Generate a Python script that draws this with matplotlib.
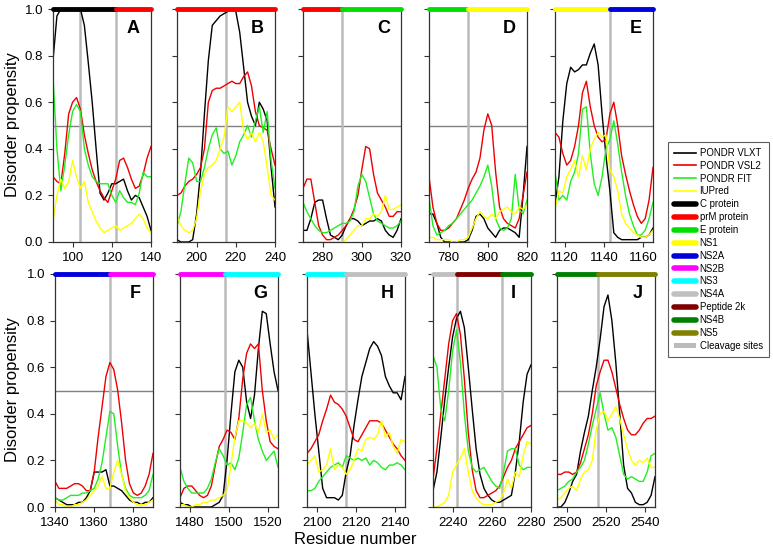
import numpy as np
import matplotlib
matplotlib.use("Agg")
import matplotlib.pyplot as plt
from matplotlib.lines import Line2D
from matplotlib.patches import Patch

plt.rcParams['font.family'] = ['Liberation Sans', 'DejaVu Sans']

# protein colours used in the top bars
prot_names = ['C protein', 'prM protein', 'E protein', 'NS1', 'NS2A', 'NS2B',
              'NS3', 'NS4A', 'Peptide 2k', 'NS4B', 'NS5']
prot_colors = ['#000000', '#ff0000', '#00e000', '#ffff00', '#0000dd', '#ff00ff',
               '#00ffff', '#c0c0c0', '#800000', '#008000', '#808000']
pcol = dict(zip(prot_names, prot_colors))

# ---- panel A : residues 90-140, step 2
A_vlxt = [0.78, 0.97, 1.0, 1.0, 1.0, 1.0, 1.0, 1.0, 0.93, 0.77, 0.60, 0.40, 0.21, 0.18, 0.21, 0.25, 0.25, 0.26, 0.27, 0.22, 0.18, 0.20, 0.19, 0.15, 0.11, 0.05]
A_vsl2 = [0.28, 0.26, 0.25, 0.38, 0.55, 0.60, 0.62, 0.57, 0.46, 0.38, 0.31, 0.26, 0.22, 0.19, 0.17, 0.22, 0.27, 0.35, 0.36, 0.32, 0.27, 0.23, 0.24, 0.29, 0.36, 0.41]
A_fit = [0.71, 0.40, 0.22, 0.33, 0.46, 0.56, 0.59, 0.56, 0.40, 0.33, 0.28, 0.26, 0.25, 0.25, 0.25, 0.20, 0.17, 0.22, 0.19, 0.17, 0.17, 0.16, 0.21, 0.30, 0.28, 0.28]
A_iup = [0.09, 0.20, 0.27, 0.23, 0.26, 0.35, 0.28, 0.23, 0.26, 0.17, 0.13, 0.09, 0.06, 0.04, 0.05, 0.06, 0.07, 0.05, 0.06, 0.07, 0.08, 0.10, 0.12, 0.10, 0.06, 0.04]

# ---- panel B : 190-240
B_vlxt = [0.01, 0.0, 0.0, 0.0, 0.01, 0.12, 0.30, 0.55, 0.78, 0.93, 0.95, 0.97, 0.98, 0.99, 1.0, 0.99, 0.90, 0.75, 0.60, 0.54, 0.50, 0.60, 0.57, 0.52, 0.32, 0.15]
B_vsl2 = [0.20, 0.21, 0.24, 0.26, 0.27, 0.29, 0.32, 0.40, 0.60, 0.65, 0.66, 0.66, 0.67, 0.68, 0.69, 0.68, 0.68, 0.71, 0.73, 0.67, 0.56, 0.50, 0.49, 0.48, 0.40, 0.33]
B_fit = [0.07, 0.13, 0.25, 0.36, 0.34, 0.26, 0.26, 0.32, 0.40, 0.46, 0.49, 0.40, 0.38, 0.39, 0.33, 0.37, 0.43, 0.46, 0.50, 0.45, 0.52, 0.58, 0.47, 0.56, 0.35, 0.23]
B_iup = [0.11, 0.07, 0.05, 0.04, 0.05, 0.10, 0.22, 0.29, 0.32, 0.33, 0.35, 0.40, 0.45, 0.58, 0.56, 0.58, 0.60, 0.48, 0.44, 0.47, 0.43, 0.47, 0.43, 0.32, 0.20, 0.18]

# ---- panel C : 270-320
C_vlxt = [0.05, 0.05, 0.10, 0.17, 0.18, 0.18, 0.10, 0.03, 0.02, 0.01, 0.03, 0.07, 0.10, 0.10, 0.09, 0.07, 0.08, 0.09, 0.09, 0.10, 0.09, 0.05, 0.03, 0.02, 0.05, 0.10]
C_vsl2 = [0.23, 0.27, 0.27, 0.17, 0.07, 0.03, 0.01, 0.01, 0.02, 0.03, 0.05, 0.07, 0.10, 0.14, 0.20, 0.31, 0.41, 0.40, 0.29, 0.21, 0.18, 0.15, 0.11, 0.11, 0.13, 0.13]
C_fit = [0.17, 0.13, 0.10, 0.07, 0.05, 0.04, 0.04, 0.05, 0.06, 0.07, 0.08, 0.08, 0.09, 0.13, 0.24, 0.29, 0.26, 0.19, 0.12, 0.09, 0.08, 0.07, 0.06, 0.06, 0.07, 0.09]
C_iup = [0.0, 0.0, 0.0, 0.0, 0.0, 0.0, 0.0, 0.0, 0.0, 0.0, 0.0, 0.01, 0.03, 0.05, 0.07, 0.07, 0.10, 0.10, 0.12, 0.11, 0.13, 0.20, 0.14, 0.14, 0.15, 0.16]

# ---- panel D : 770-820
D_vlxt = [0.12, 0.12, 0.08, 0.02, 0.0, 0.0, 0.0, 0.0, 0.0, 0.0, 0.01, 0.05, 0.11, 0.12, 0.10, 0.06, 0.04, 0.02, 0.05, 0.06, 0.06, 0.05, 0.04, 0.02, 0.20, 0.41]
D_vsl2 = [0.28, 0.15, 0.08, 0.05, 0.05, 0.06, 0.08, 0.10, 0.14, 0.18, 0.23, 0.27, 0.30, 0.36, 0.48, 0.55, 0.50, 0.30, 0.15, 0.10, 0.08, 0.07, 0.06, 0.10, 0.20, 0.30]
D_fit = [0.19, 0.07, 0.03, 0.04, 0.05, 0.07, 0.08, 0.10, 0.12, 0.14, 0.16, 0.18, 0.21, 0.24, 0.28, 0.33, 0.24, 0.10, 0.06, 0.05, 0.06, 0.10, 0.29, 0.14, 0.12, 0.18]
D_iup = [0.02, 0.02, 0.01, 0.01, 0.01, 0.01, 0.0, 0.0, 0.01, 0.01, 0.02, 0.06, 0.10, 0.13, 0.11, 0.10, 0.12, 0.10, 0.13, 0.14, 0.15, 0.13, 0.12, 0.15, 0.14, 0.16]

# ---- panel E : 1115-1165
E_vlxt = [0.16, 0.28, 0.52, 0.68, 0.75, 0.73, 0.74, 0.76, 0.76, 0.81, 0.85, 0.76, 0.55, 0.37, 0.22, 0.04, 0.02, 0.01, 0.01, 0.01, 0.01, 0.01, 0.02, 0.02, 0.03, 0.06]
E_vsl2 = [0.47, 0.45, 0.38, 0.33, 0.35, 0.41, 0.50, 0.64, 0.69, 0.58, 0.50, 0.45, 0.43, 0.44, 0.55, 0.60, 0.50, 0.37, 0.29, 0.22, 0.16, 0.11, 0.08, 0.10, 0.18, 0.32]
E_fit = [0.30, 0.18, 0.20, 0.18, 0.26, 0.30, 0.38, 0.57, 0.58, 0.38, 0.25, 0.20, 0.28, 0.40, 0.44, 0.52, 0.42, 0.30, 0.20, 0.12, 0.07, 0.03, 0.03, 0.05, 0.10, 0.17]
E_iup = [0.14, 0.22, 0.21, 0.28, 0.31, 0.35, 0.28, 0.37, 0.31, 0.40, 0.44, 0.47, 0.45, 0.46, 0.31, 0.28, 0.22, 0.12, 0.08, 0.06, 0.04, 0.03, 0.02, 0.02, 0.03, 0.05]

# ---- panel F : 1340-1390
F_vlxt = [0.04, 0.03, 0.02, 0.01, 0.01, 0.01, 0.02, 0.02, 0.04, 0.07, 0.15, 0.15, 0.15, 0.16, 0.09, 0.09, 0.08, 0.07, 0.05, 0.03, 0.02, 0.02, 0.01, 0.02, 0.02, 0.04]
F_vsl2 = [0.11, 0.08, 0.08, 0.08, 0.09, 0.10, 0.10, 0.09, 0.07, 0.07, 0.15, 0.30, 0.43, 0.56, 0.62, 0.59, 0.50, 0.36, 0.20, 0.10, 0.06, 0.05, 0.06, 0.09, 0.14, 0.23]
F_fit = [0.04, 0.03, 0.03, 0.04, 0.05, 0.05, 0.05, 0.06, 0.06, 0.07, 0.08, 0.12, 0.19, 0.30, 0.41, 0.40, 0.26, 0.14, 0.08, 0.05, 0.04, 0.04, 0.04, 0.05, 0.07, 0.14]
F_iup = [0.03, 0.01, 0.01, 0.0, 0.0, 0.01, 0.01, 0.02, 0.03, 0.05, 0.07, 0.09, 0.13, 0.08, 0.08, 0.15, 0.20, 0.14, 0.07, 0.04, 0.02, 0.01, 0.01, 0.01, 0.02, 0.03]

# ---- panel G : 1475-1525
G_vlxt = [0.02, 0.01, 0.01, 0.0, 0.0, 0.0, 0.0, 0.0, 0.0, 0.01, 0.02, 0.05, 0.20, 0.40, 0.58, 0.63, 0.60, 0.45, 0.38, 0.48, 0.68, 0.84, 0.83, 0.70, 0.58, 0.50]
G_vsl2 = [0.04, 0.08, 0.09, 0.09, 0.07, 0.05, 0.04, 0.05, 0.09, 0.18, 0.26, 0.29, 0.33, 0.32, 0.29, 0.38, 0.55, 0.66, 0.70, 0.68, 0.70, 0.50, 0.37, 0.28, 0.26, 0.25]
G_fit = [0.17, 0.11, 0.08, 0.06, 0.06, 0.06, 0.06, 0.08, 0.12, 0.19, 0.25, 0.22, 0.18, 0.19, 0.16, 0.21, 0.32, 0.44, 0.47, 0.37, 0.29, 0.24, 0.20, 0.22, 0.24, 0.17]
G_iup = [0.01, 0.01, 0.0, 0.0, 0.01, 0.01, 0.02, 0.02, 0.03, 0.03, 0.04, 0.05, 0.07, 0.18, 0.30, 0.37, 0.37, 0.36, 0.34, 0.36, 0.32, 0.40, 0.32, 0.33, 0.29, 0.31]

# ---- panel H : 2095-2145
H_vlxt = [0.76, 0.58, 0.40, 0.24, 0.08, 0.04, 0.04, 0.04, 0.03, 0.05, 0.15, 0.22, 0.35, 0.46, 0.56, 0.62, 0.68, 0.71, 0.69, 0.65, 0.56, 0.52, 0.49, 0.49, 0.46, 0.56]
H_vsl2 = [0.23, 0.25, 0.28, 0.31, 0.37, 0.42, 0.48, 0.45, 0.44, 0.42, 0.39, 0.34, 0.29, 0.28, 0.31, 0.34, 0.37, 0.37, 0.37, 0.36, 0.33, 0.30, 0.27, 0.25, 0.22, 0.20]
H_fit = [0.07, 0.07, 0.08, 0.11, 0.13, 0.15, 0.17, 0.18, 0.19, 0.17, 0.22, 0.21, 0.20, 0.21, 0.20, 0.21, 0.18, 0.20, 0.19, 0.17, 0.16, 0.18, 0.18, 0.19, 0.18, 0.16]
H_iup = [0.18, 0.20, 0.22, 0.15, 0.16, 0.18, 0.25, 0.16, 0.18, 0.17, 0.14, 0.16, 0.20, 0.25, 0.24, 0.29, 0.30, 0.29, 0.31, 0.37, 0.30, 0.32, 0.26, 0.23, 0.29, 0.28]

# ---- panel I : 2230-2280
I_vlxt = [0.07, 0.15, 0.30, 0.46, 0.60, 0.73, 0.81, 0.84, 0.77, 0.60, 0.42, 0.25, 0.14, 0.08, 0.05, 0.03, 0.02, 0.02, 0.03, 0.04, 0.05, 0.15, 0.28, 0.45, 0.57, 0.61]
I_vsl2 = [0.12, 0.25, 0.40, 0.55, 0.70, 0.80, 0.83, 0.74, 0.55, 0.32, 0.16, 0.07, 0.04, 0.04, 0.05, 0.06, 0.07, 0.09, 0.13, 0.17, 0.20, 0.25, 0.28, 0.31, 0.34, 0.35]
I_fit = [0.65, 0.60, 0.42, 0.37, 0.50, 0.67, 0.76, 0.62, 0.40, 0.24, 0.17, 0.15, 0.16, 0.17, 0.14, 0.11, 0.09, 0.08, 0.15, 0.24, 0.25, 0.25, 0.18, 0.16, 0.17, 0.17]
I_iup = [0.0, 0.0, 0.01, 0.02, 0.05, 0.15, 0.18, 0.21, 0.25, 0.15, 0.07, 0.04, 0.02, 0.01, 0.01, 0.01, 0.02, 0.03, 0.06, 0.12, 0.08, 0.15, 0.13, 0.22, 0.28, 0.27]

# ---- panel J : 2495-2545
J_vlxt = [0.0, 0.0, 0.02, 0.06, 0.11, 0.14, 0.24, 0.32, 0.39, 0.50, 0.60, 0.72, 0.86, 0.91, 0.80, 0.62, 0.40, 0.18, 0.08, 0.06, 0.02, 0.01, 0.01, 0.02, 0.05, 0.13]
J_vsl2 = [0.14, 0.14, 0.15, 0.15, 0.14, 0.15, 0.19, 0.25, 0.31, 0.40, 0.52, 0.58, 0.63, 0.63, 0.58, 0.51, 0.44, 0.38, 0.33, 0.31, 0.31, 0.33, 0.36, 0.38, 0.38, 0.39]
J_fit = [0.07, 0.08, 0.09, 0.11, 0.12, 0.15, 0.17, 0.20, 0.27, 0.35, 0.42, 0.49, 0.40, 0.33, 0.34, 0.30, 0.22, 0.14, 0.12, 0.13, 0.12, 0.11, 0.11, 0.15, 0.22, 0.23]
J_iup = [0.03, 0.04, 0.06, 0.08, 0.09, 0.07, 0.12, 0.15, 0.16, 0.20, 0.33, 0.40, 0.41, 0.37, 0.40, 0.43, 0.38, 0.31, 0.25, 0.20, 0.18, 0.20, 0.19, 0.21, 0.17, 0.17]

# panel settings: label, x range, ticks, cleavage sites, protein segments
panels = [
    ('A', (90, 140), [100, 120, 140], [104, 122], [(90, 122, 'C protein'), (122, 140, 'prM protein')], (A_vlxt, A_vsl2, A_fit, A_iup)),
    ('B', (190, 240), [200, 220, 240], [215], [(190, 240, 'prM protein')], (B_vlxt, B_vsl2, B_fit, B_iup)),
    ('C', (270, 320), [280, 300, 320], [290], [(270, 290, 'prM protein'), (290, 320, 'E protein')], (C_vlxt, C_vsl2, C_fit, C_iup)),
    ('D', (770, 820), [780, 800, 820], [790], [(770, 790, 'E protein'), (790, 820, 'NS1')], (D_vlxt, D_vsl2, D_fit, D_iup)),
    ('E', (1115, 1165), [1120, 1140, 1160], [1143], [(1115, 1143, 'NS1'), (1143, 1165, 'NS2A')], (E_vlxt, E_vsl2, E_fit, E_iup)),
    ('F', (1340, 1390), [1340, 1360, 1380], [1368], [(1340, 1368, 'NS2A'), (1368, 1390, 'NS2B')], (F_vlxt, F_vsl2, F_fit, F_iup)),
    ('G', (1475, 1525), [1480, 1500, 1520], [1498], [(1475, 1498, 'NS2B'), (1498, 1525, 'NS3')], (G_vlxt, G_vsl2, G_fit, G_iup)),
    ('H', (2095, 2145), [2100, 2120, 2140], [2115], [(2095, 2115, 'NS3'), (2115, 2145, 'NS4A')], (H_vlxt, H_vsl2, H_fit, H_iup)),
    ('I', (2230, 2280), [2240, 2260, 2280], [2242, 2265], [(2230, 2242, 'NS4A'), (2242, 2265, 'Peptide 2k'), (2265, 2280, 'NS4B')], (I_vlxt, I_vsl2, I_fit, I_iup)),
    ('J', (2495, 2545), [2500, 2520, 2540], [2516], [(2495, 2516, 'NS4B'), (2516, 2545, 'NS5')], (J_vlxt, J_vsl2, J_fit, J_iup)),
]

series_names = ['PONDR VLXT', 'PONDR VSL2', 'PONDR FIT', 'IUPred']
series_colors = ['#000000', '#ee0000', '#22ee22', '#ffff00']

W, H = 773, 554
fig = plt.figure(figsize=(W / 100, H / 100), dpi=100)

top_lefts = [53, 177, 303, 429, 555]
bot_lefts = [55, 180, 307, 433, 557]
pw = 98

for i, (lab, xr, xt, cuts, segs, ys) in enumerate(panels):
    row = i // 5
    col = i % 5
    if row == 0:
        left, top, bottom = top_lefts[col], 9, 242
    else:
        left, top, bottom = bot_lefts[col], 274, 507
    ax = fig.add_axes([left / W, 1 - bottom / H, pw / W, (bottom - top) / H])
    x = np.arange(xr[0], xr[1] + 1, 2)
    ax.axhline(0.5, color='#808080', lw=1.0, zorder=1)
    for c in cuts:
        ax.axvline(c, color='#bbbbbb', lw=1.8, zorder=1)
    for y, colr in zip(ys, series_colors):
        ax.plot(x, y, color=colr, lw=1.0, zorder=2)
    for s0, s1, name in segs:
        ax.plot([s0, s1], [1.0, 1.0], color=pcol[name], lw=3.5,
                solid_capstyle='round', clip_on=False, zorder=5)
    ax.set_xlim(*xr)
    ax.set_ylim(0, 1)
    ax.set_xticks(xt)
    ax.set_yticks([0, 0.2, 0.4, 0.6, 0.8, 1.0])
    ax.spines['top'].set_visible(False)
    for sp in ['left', 'right', 'bottom']:
        ax.spines[sp].set_color('#333333')
        ax.spines[sp].set_linewidth(0.9)
    ax.tick_params(direction='out', length=3.5, width=0.8, labelsize=9.5, colors='#333333', labelcolor='black')
    if col == 0:
        ax.set_yticklabels(['0.0', '0.2', '0.4', '0.6', '0.8', '1.0'])
    else:
        ax.set_yticklabels([])
    ax.text(0.82, 0.915, lab, transform=ax.transAxes, ha='center', va='center',
            fontsize=13, fontweight='bold')

fig.text(355 / W, 1 - 540 / H, 'Residue number', ha='center', va='center', fontsize=12)
fig.text(13 / W, 1 - 125 / H, 'Disorder propensity', ha='center', va='center', rotation=90, fontsize=12)
fig.text(13 / W, 1 - 390 / H, 'Disorder propensity', ha='center', va='center', rotation=90, fontsize=12)

handles = [Line2D([], [], color=c, lw=1.2) for c in series_colors]
handles += [Line2D([], [], color=c, lw=4.0, solid_capstyle='round') for c in prot_colors]
handles += [Patch(facecolor='#bbbbbb', edgecolor='none')]
labels = series_names + prot_names + ['Cleavage sites']
leg = fig.legend(handles, labels, loc='upper left', bbox_to_anchor=(668 / W, 1 - 142 / H),
                 fontsize=6.9, frameon=True, fancybox=False, edgecolor='#333333',
                 handlelength=2.3, handleheight=0.55, labelspacing=0.3, borderpad=0.6,
                 handletextpad=0.4, borderaxespad=0)
leg.get_frame().set_linewidth(0.8)

fig.savefig('out.png', dpi=100)
